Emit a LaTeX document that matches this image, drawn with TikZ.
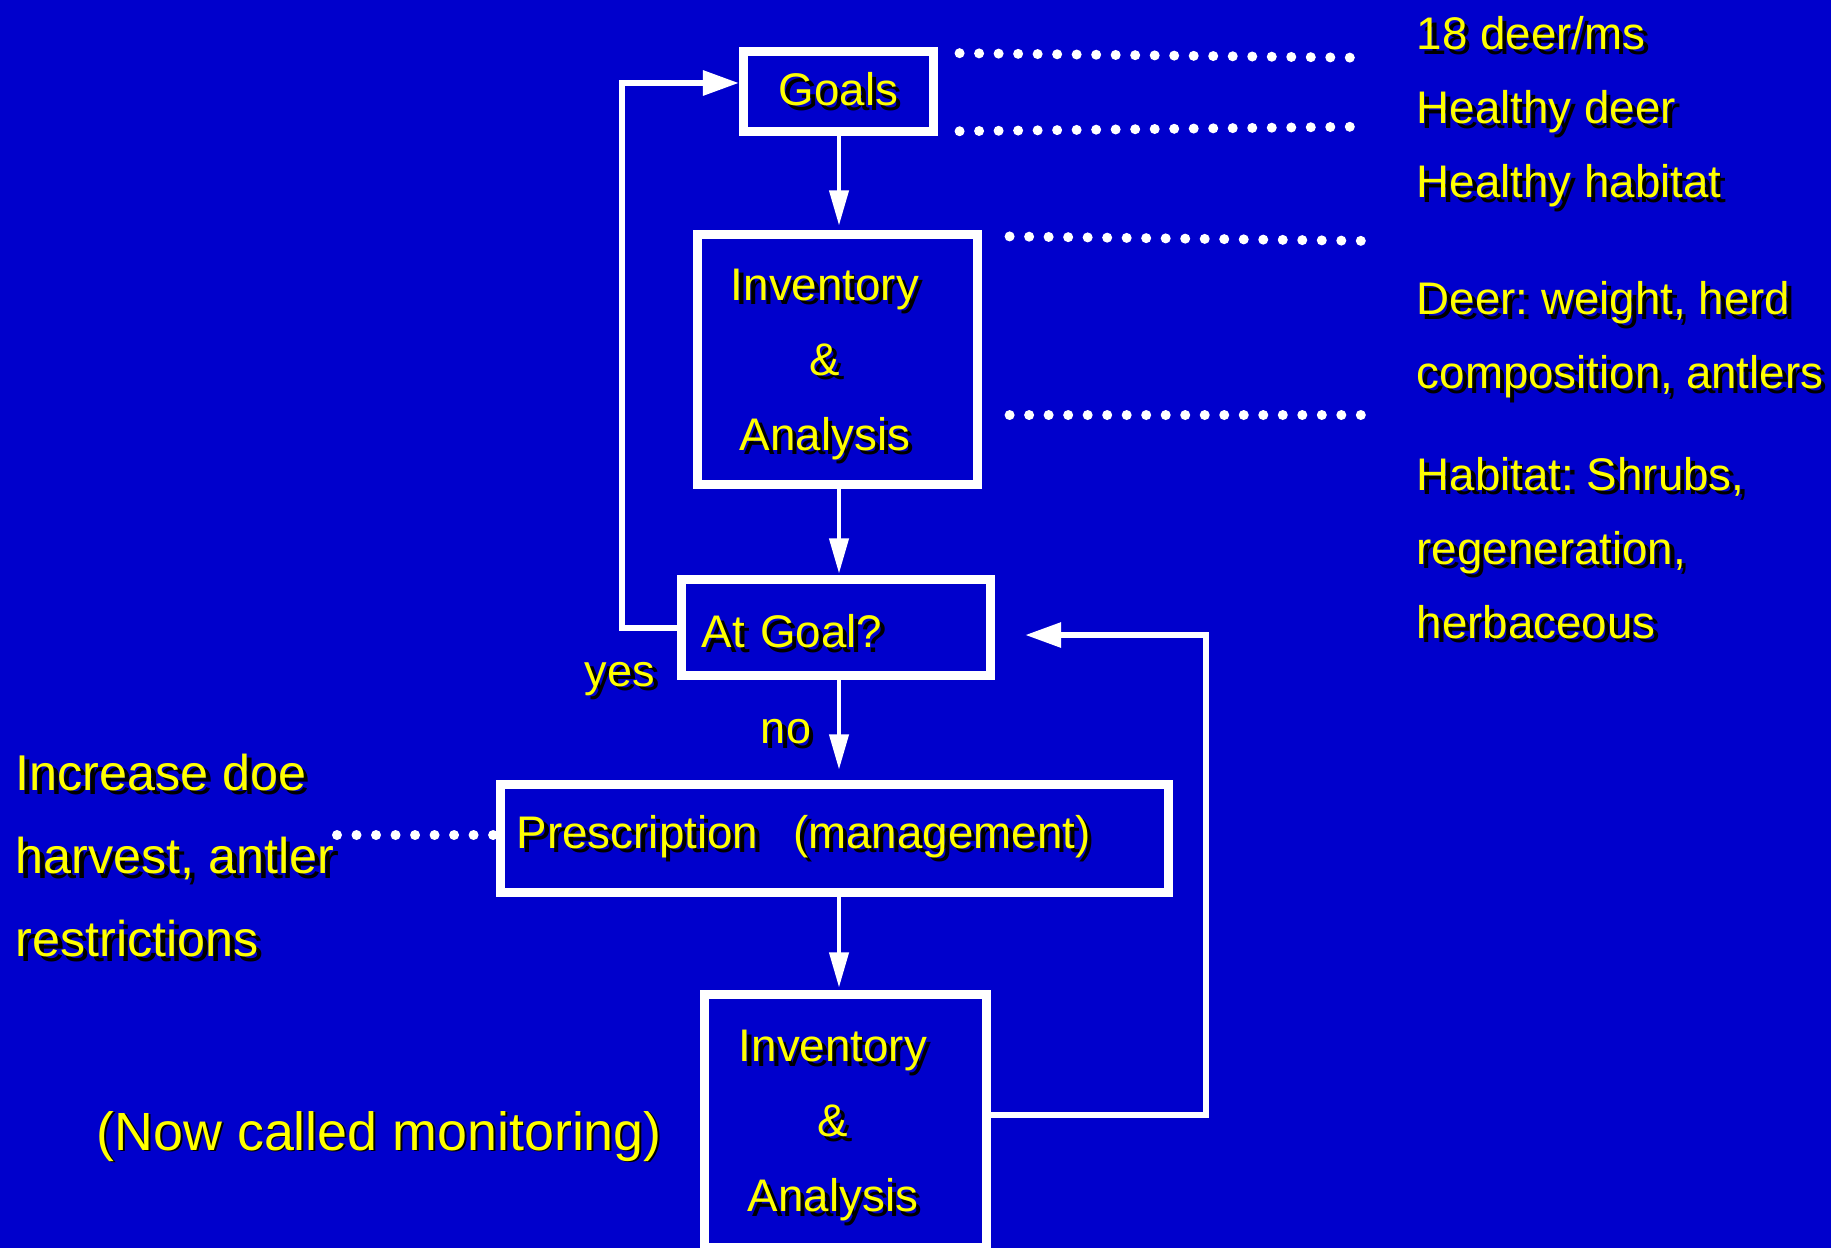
\documentclass[tikz,border=0pt]{standalone}
\usepackage{fontspec}
\setmainfont{Liberation Sans}
\usetikzlibrary{arrows.meta,positioning,calc}
\frenchspacing

\definecolor{slideblue}{RGB}{0,0,204}
\definecolor{slideyellow}{RGB}{255,255,0}
% yellow text with a black drop shadow
\newcommand{\shd}[2][1.3pt]{\makebox[0pt][l]{\kern#1\raisebox{-#1}{\color{black}#2}}#2}
\newcommand{\padr}{\rule{0.25cm}{0pt}}
\newcommand{\tallstrut}{\rule{0pt}{0.455cm}}

\begin{document}
\begin{tikzpicture}[
    x=0.01cm, y=-0.01cm,
    box/.style={rectangle, draw=white, line width=0.09cm, text=slideyellow, align=center, font=\fontsize{13}{21.3}\selectfont},
    note/.style={text=slideyellow, inner sep=0pt, align=left, font=\fontsize{13}{21}\selectfont},
    arrow/.style={-{Triangle[length=0.35cm,width=0.19cm]}, white, line width=0.04cm},
    looparrow/.style={-{Triangle[length=0.36cm,width=0.24cm]}, white, line width=0.06cm},
    dots/.style={white, line width=0.1cm, line cap=round, dash pattern=on 0pt off 0.195cm},
]
\fill[slideblue] (0,0) rectangle (1831,1248);
\useasboundingbox (0,0) rectangle (1831,1248);
\coordinate (axis) at (839,0);

% management cycle
\node[box, minimum width=1.9cm, minimum height=0.8cm] (goals) at (838.5,91.5) {\shd{Goals}};
\node[box, minimum width=2.8cm, minimum height=2.5cm] (inv1) at (837.5,359.5) {\tallstrut\shd{Inventory}\padr\\\shd{\&}\padr\\\shd{Analysis}\padr};
\node[box, text width=2.68cm, inner xsep=0.205cm, minimum height=0.96cm, align=left] (atgoal) at (836,627.5) {\tallstrut\shd{At Goal?}};
\node[box, text width=6.35cm, inner xsep=0.165cm, minimum height=1.08cm, align=left] (presc) at (834.5,838.5) {\shd{Prescription\hspace{0.35cm}(management)}};
\node[box, minimum width=2.82cm, minimum height=2.53cm] (inv2) at (845.5,1121) {\tallstrut\shd{Inventory}\padr\\\shd{\&}\padr\\\shd{Analysis}\padr};

\node[note, font=\fontsize{12.8}{15}\selectfont] (yes) at (620,681) {\shd{yes}};
\node[note, font=\fontsize{12.8}{15}\selectfont] (no) at (786,734) {\shd{no}};

\draw[arrow, shorten >=0.045cm] (axis |- goals.south) -- (axis |- inv1.north);
\draw[arrow, shorten >=0.015cm] (axis |- inv1.south) -- (axis |- atgoal.north);
\draw[arrow, shorten >=0.105cm] (axis |- atgoal.south) -- (axis |- presc.north);
\draw[arrow, shorten >=0.025cm] (axis |- presc.south) -- (axis |- inv2.north);
\draw[looparrow] (atgoal.west) -- ++(-0.55cm,0) |- ([yshift=0.085cm]goals.west);
\draw[looparrow, shorten >=0.3cm] ([yshift=0.06cm]inv2.east) -- ++(2.15cm,0) |- ([yshift=-0.075cm]atgoal.east);

% side notes
\node[note, anchor=north west] (goaltxt) at (1416,16) {\shd{18 deer/ms}\\\shd{Healthy deer}\\\shd{Healthy habitat}};
\node[note, anchor=north west] (deertxt) at (1416,281) {\shd{Deer: weight, herd}\\\shd{composition, antlers}};
\node[note, anchor=north west] (habtxt) at (1416,456.5) {\shd{Habitat: Shrubs,}\\\shd{regeneration,}\\\shd{herbaceous}};
\node[note, anchor=north west, font=\fontsize{14.3}{23.7}\selectfont] (dotxt) at (15,753) {\shd{Increase doe}\\\shd{harvest, antler}\\\shd{restrictions}};
\node[note, anchor=base west, font=\fontsize{15.3}{18}\selectfont] (monitor) at (96,1150) {\shd[0.5pt]{(Now called monitoring)}};

\coordinate (gd1) at (1358,57.7);
\coordinate (gd2) at (1358,126.7);
\coordinate (id1) at (1373,241);
\coordinate (id2) at (1373,415);
\coordinate (pd) at (337,835);
\draw[dots] ([shift={(0.215cm,-0.062cm)}]goals.north east) -- (gd1);
\draw[dots] ([shift={(0.215cm,0.048cm)}]goals.south east) -- (gd2);
\draw[dots] ([shift={(0.275cm,-0.065cm)}]inv1.north east) -- (id1);
\draw[dots] ([shift={(0.275cm,-0.555cm)}]inv1.east) -- (id2);
\draw[dots] (pd) -- ([shift={(-0.02cm,0.035cm)}]presc.west);
\end{tikzpicture}
\end{document}
